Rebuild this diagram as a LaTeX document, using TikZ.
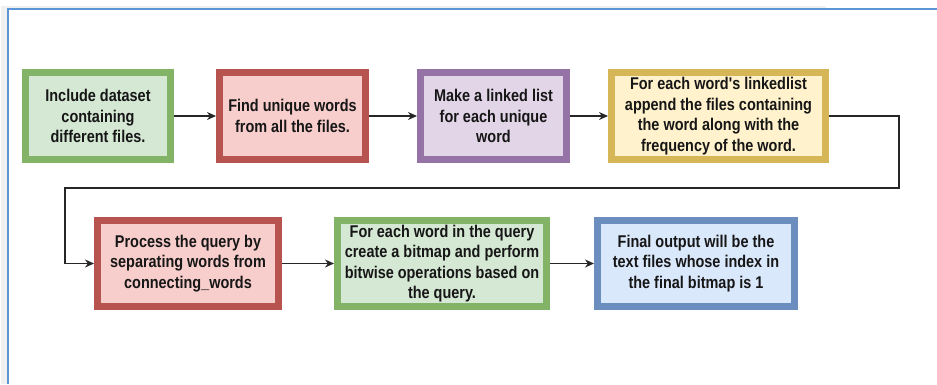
\documentclass[tikz,border=0pt]{standalone}
\usepackage{fontspec}
\setmainfont{Liberation Sans}[FakeStretch=0.85, Ligatures=TeXReset]
\usetikzlibrary{arrows.meta}
\definecolor{greenfill}{HTML}{D5E8D4}\definecolor{greenline}{HTML}{82B366}
\definecolor{redfill}{HTML}{F8CECC}\definecolor{redline}{HTML}{B85450}
\definecolor{purplefill}{HTML}{E1D5E7}\definecolor{purpleline}{HTML}{9673A6}
\definecolor{yellowfill}{HTML}{FFF2CC}\definecolor{yellowline}{HTML}{D6B656}
\definecolor{bluefill}{HTML}{DAE8FC}\definecolor{blueline}{HTML}{6C8EBF}
\definecolor{framegray}{HTML}{F0F0F0}\definecolor{frameblue}{HTML}{5B95D6}
\definecolor{inktext}{HTML}{161616}
\tikzset{
  stepbox/.style={rectangle, line width=7pt, inner sep=0pt, align=center,
    text=inktext, font=\fontsize{17}{20.5}\selectfont\bfseries},
  flow/.style={line width=1.4pt, draw=black!85, -{Stealth[length=9pt,width=8pt]}},
}
\begin{document}
\begin{tikzpicture}[x=1pt,y=1pt]
\useasboundingbox (0,0) rectangle (937,-384);
\fill[white] (0,0) rectangle (937,-384);
% window frame
\fill[framegray] (1,-6) rectangle (826,-9);
\fill[framegray] (1,-6) rectangle (7,-384);
\draw[frameblue, line width=2pt] (8,-384) -- (8,-9) -- (937,-9);

% first row
\node[stepbox, fill=greenfill, draw=greenline, minimum width=145pt, minimum height=87pt]
  (b1) at (98,-116) {Include dataset\\containing\\different files.};
\node[stepbox, fill=redfill, draw=redline, minimum width=146pt, minimum height=87pt]
  (b2) at (292.5,-116) {Find unique words\\from all the files.};
\node[stepbox, fill=purplefill, draw=purpleline, minimum width=146pt, minimum height=87pt]
  (b3) at (493.5,-116) {Make a linked list\\for each unique\\word};
\node[stepbox, fill=yellowfill, draw=yellowline, minimum width=214pt, minimum height=87pt]
  (b4) at (718.5,-116) {For each word's linkedlist\\append the files containing\\the word along with the\\frequency of the word.};

% second row
\node[stepbox, fill=redfill, draw=redline, minimum width=181pt, minimum height=86pt]
  (b5) at (188,-263.5) {Process the query by\\separating words from\\connecting\_words};
\node[stepbox, fill=greenfill, draw=greenline, minimum width=209pt, minimum height=86pt]
  (b6) at (442,-263.5) {For each word in the query\\create a bitmap and perform\\bitwise operations based on\\the query.};
\node[stepbox, fill=bluefill, draw=blueline, minimum width=197pt, minimum height=86pt]
  (b7) at (696,-263.5) {Final output will be the\\text files whose index in\\the final bitmap is 1};

% connectors
\coordinate (turnA) at (899,-116);
\coordinate (turnB) at (899,-188);
\coordinate (turnC) at (65,-188);
\coordinate (turnD) at (65,-263.5);
\draw[flow] (b1.east) -- (b2.west);
\draw[flow] (b2.east) -- (b3.west);
\draw[flow] (b3.east) -- (b4.west);
\draw[flow] (b4.east) -- (turnA) -- (turnB) -- (turnC) -- (turnD) -- (b5.west);
\draw[flow] (b5.east) -- (b6.west);
\draw[flow] (b6.east) -- (b7.west);
\end{tikzpicture}
\end{document}
